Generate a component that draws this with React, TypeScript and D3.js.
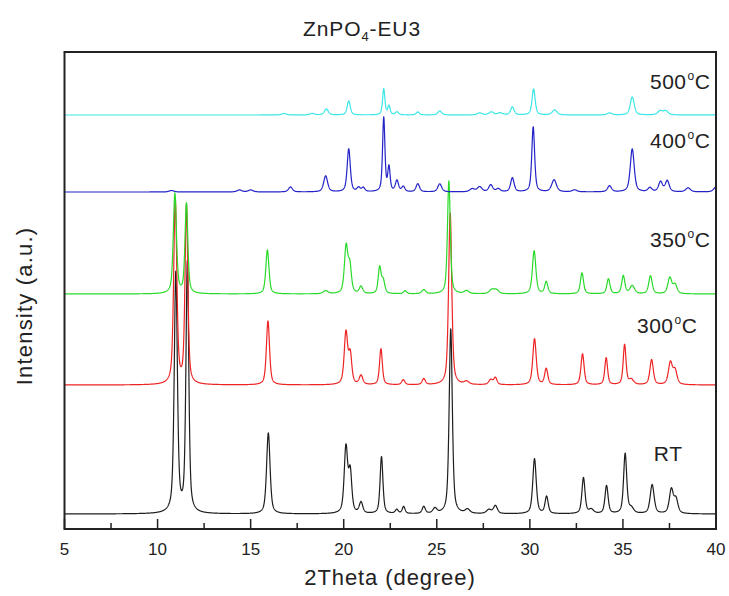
import React from "react";
import * as d3 from "d3";

// 2θ range and ticks
const xDomain: [number, number] = [5, 40];
const xMajorTicks = [5, 10, 15, 20, 25, 30, 35, 40];
const xMinorTicks = [7.5, 12.5, 17.5, 22.5, 27.5, 32.5, 37.5];

// Series names / labels
const seriesNames = ["RT", "300", "350", "400", "500"];
const seriesColors = ["#1e1e1e", "#ee2424", "#2ada2a", "#2323c8", "#3ce6e6"];
// Vertical offsets (a.u.)
const seriesBaselines = [15, 144, 235, 337, 414];

// Peak tables: [2θ, height (a.u.), FWHM (deg)]
const peaksRT: number[][] = [
  [10.98, 240, 0.2], [11.6, 250, 0.18], [15.95, 81, 0.22], [20.12, 66, 0.22], [20.35, 40, 0.2],
  [20.93, 11, 0.22], [22.03, 57, 0.18], [22.85, 4, 0.2], [23.22, 7, 0.18], [24.3, 7, 0.2],
  [24.9, 5, 0.25], [25.75, 185, 0.2], [26.65, 4, 0.3], [27.8, 4, 0.3], [28.15, 8, 0.25],
  [30.25, 55, 0.22], [30.9, 17, 0.2], [32.88, 36, 0.2], [33.3, 4, 0.3], [34.12, 28, 0.2],
  [35.12, 60, 0.2], [35.45, 5, 0.3], [36.57, 29, 0.25], [37.6, 24, 0.25], [37.85, 14, 0.25],
];
const peaks300: number[][] = [
  [10.95, 185, 0.2], [11.55, 178, 0.18], [15.93, 64, 0.2], [20.12, 52, 0.22], [20.35, 29, 0.2],
  [20.93, 9, 0.22], [22.0, 36, 0.18], [23.2, 5, 0.2], [24.3, 6, 0.2], [25.72, 172, 0.2],
  [26.6, 3, 0.3], [27.9, 5, 0.25], [28.15, 7, 0.2], [30.25, 46, 0.22], [30.88, 16, 0.2],
  [32.83, 31, 0.2], [34.1, 27, 0.18], [35.09, 40, 0.18], [35.45, 5, 0.3], [36.54, 25, 0.22],
  [37.55, 22, 0.25], [37.8, 14, 0.25],
];
const peaks350: number[][] = [
  [10.93, 100, 0.2], [11.55, 90, 0.18], [15.9, 44, 0.2], [19.03, 3, 0.3], [20.13, 47, 0.22],
  [20.33, 26, 0.2], [20.93, 7, 0.22], [21.93, 26, 0.18], [22.12, 13, 0.2], [23.3, 3, 0.2],
  [24.3, 4, 0.25], [25.65, 113, 0.18], [26.6, 3, 0.3], [27.95, 4, 0.3], [28.2, 4, 0.3],
  [30.23, 43, 0.22], [30.88, 12, 0.2], [32.8, 21, 0.2], [34.22, 15, 0.2], [35.02, 18, 0.2],
  [35.5, 8, 0.3], [36.48, 18, 0.22], [37.52, 16, 0.25], [37.8, 9, 0.25],
];
const peaks400: number[][] = [
  [10.75, 1.5, 0.3], [14.4, 2, 0.3], [15.0, 2, 0.3], [17.14, 5, 0.25], [19.03, 16, 0.25],
  [20.27, 43, 0.2], [20.8, 4, 0.2], [21.05, 4, 0.2], [22.15, 74, 0.15], [22.43, 24, 0.15],
  [22.86, 11, 0.2], [23.2, 5, 0.2], [23.98, 8, 0.22], [25.16, 8, 0.25], [26.9, 3, 0.3],
  [27.3, 5, 0.3], [27.9, 7, 0.25], [28.3, 3, 0.25], [29.06, 14, 0.22], [30.18, 65, 0.18],
  [31.3, 12, 0.3], [32.4, 2, 0.3], [34.28, 6, 0.25], [35.5, 43, 0.25], [36.45, 4, 0.25],
  [37.02, 10, 0.25], [37.38, 11, 0.25], [38.5, 4, 0.3], [40.0, 5, 0.3],
];
const peaks500: number[][] = [
  [16.8, 1.5, 0.3], [18.3, 1.5, 0.3], [19.07, 6, 0.25], [20.27, 14, 0.2], [22.15, 26, 0.15],
  [22.43, 9, 0.15], [22.86, 3, 0.2], [23.98, 3, 0.2], [25.16, 4, 0.25], [27.3, 2, 0.3],
  [27.93, 3, 0.3], [28.4, 2, 0.3], [29.06, 8, 0.22], [30.2, 26, 0.2], [31.33, 5, 0.3],
  [34.28, 2, 0.3], [35.5, 18, 0.25], [37.0, 4, 0.3], [37.3, 4, 0.3],
];
const seriesPeaks = [peaksRT, peaks300, peaks350, peaks400, peaks500];

// Label anchors: [2θ of right end, a.u. of baseline]
const labelPos: number[][] = [
  [38.2, 68], [39.0, 196], [39.7, 282], [39.7, 381], [39.7, 440],
];

const W = 729;
const H = 596;
const M = { left: 64.5, right: 716, top: 52, bottom: 529 };

function profile(peaks: number[][], base: number): [number, number][] {
  const pts: [number, number][] = [];
  const eta = 0.55;
  const k = 4 * Math.LN2;
  for (let i = 0; i <= 3500; i++) {
    const x = xDomain[0] + (i * (xDomain[1] - xDomain[0])) / 3500;
    let y = base;
    for (const [c, h, w] of peaks) {
      const t = (x - c) / w;
      const L = 1 / (1 + 4 * t * t);
      const G = Math.exp(-k * t * t);
      y += h * (eta * L + (1 - eta) * G);
    }
    pts.push([x, y]);
  }
  return pts;
}

export default function App() {
  const x = d3.scaleLinear().domain(xDomain).range([M.left, M.right]);
  const y = d3.scaleLinear().domain([0, 477]).range([M.bottom, M.top]);
  const line = d3
    .line<[number, number]>()
    .x((d) => x(d[0]))
    .y((d) => y(d[1]));
  const font = "Liberation Sans, Arial, Helvetica, sans-serif";

  return (
    <svg
      width={W}
      height={H}
      style={{ position: "absolute", left: 0, top: 0, background: "#fff" }}
      fontFamily={font}
    >
      <defs>
        <clipPath id="plotclip">
          <rect x={M.left} y={M.top} width={M.right - M.left} height={M.bottom - M.top} />
        </clipPath>
      </defs>
      <text x={362} y={36} fontSize={21} textAnchor="middle" fill="#222" letterSpacing={0.9}>
        ZnPO
        <tspan fontSize={13} dy={5}>4</tspan>
        <tspan dy={-5}>-EU3</tspan>
      </text>

      <g clipPath="url(#plotclip)">
        {seriesPeaks.map((pk, i) => (
          <path
            key={seriesNames[i]}
            d={line(profile(pk, seriesBaselines[i])) || ""}
            fill="none"
            stroke={seriesColors[i]}
            strokeWidth={1.2}
            strokeLinejoin="round"
          />
        ))}
      </g>

      {seriesNames.map((n, i) => (
        <text
          key={"l" + n}
          x={x(labelPos[i][0])}
          y={y(labelPos[i][1])}
          fontSize={21}
          textAnchor="end"
          fill="#222"
          letterSpacing={0.5}
        >
          {n === "RT" ? (
            "RT"
          ) : (
            <>
              {n}
              <tspan fontSize={12} dy={-9} dx={1}>o</tspan>
              <tspan dy={9}>C</tspan>
            </>
          )}
        </text>
      ))}

      <rect
        x={M.left}
        y={M.top}
        width={M.right - M.left}
        height={M.bottom - M.top}
        fill="none"
        stroke="#222"
        strokeWidth={2}
      />
      {xMajorTicks.map((t) => (
        <g key={"M" + t}>
          <line x1={x(t)} x2={x(t)} y1={M.bottom} y2={M.bottom - 10} stroke="#222" strokeWidth={1.5} />
          <text x={x(t)} y={555} fontSize={17} textAnchor="middle" fill="#222">
            {t}
          </text>
        </g>
      ))}
      {xMinorTicks.map((t) => (
        <line key={"m" + t} x1={x(t)} x2={x(t)} y1={M.bottom} y2={M.bottom - 6} stroke="#222" strokeWidth={1.5} />
      ))}
      <text x={390} y={585} fontSize={22} textAnchor="middle" fill="#222" letterSpacing={0.9}>
        2Theta (degree)
      </text>
      <text
        transform={`translate(32, 306) rotate(-90)`}
        fontSize={22}
        textAnchor="middle"
        fill="#222"
        letterSpacing={1.2}
      >
        Intensity (a.u.)
      </text>
    </svg>
  );
}
